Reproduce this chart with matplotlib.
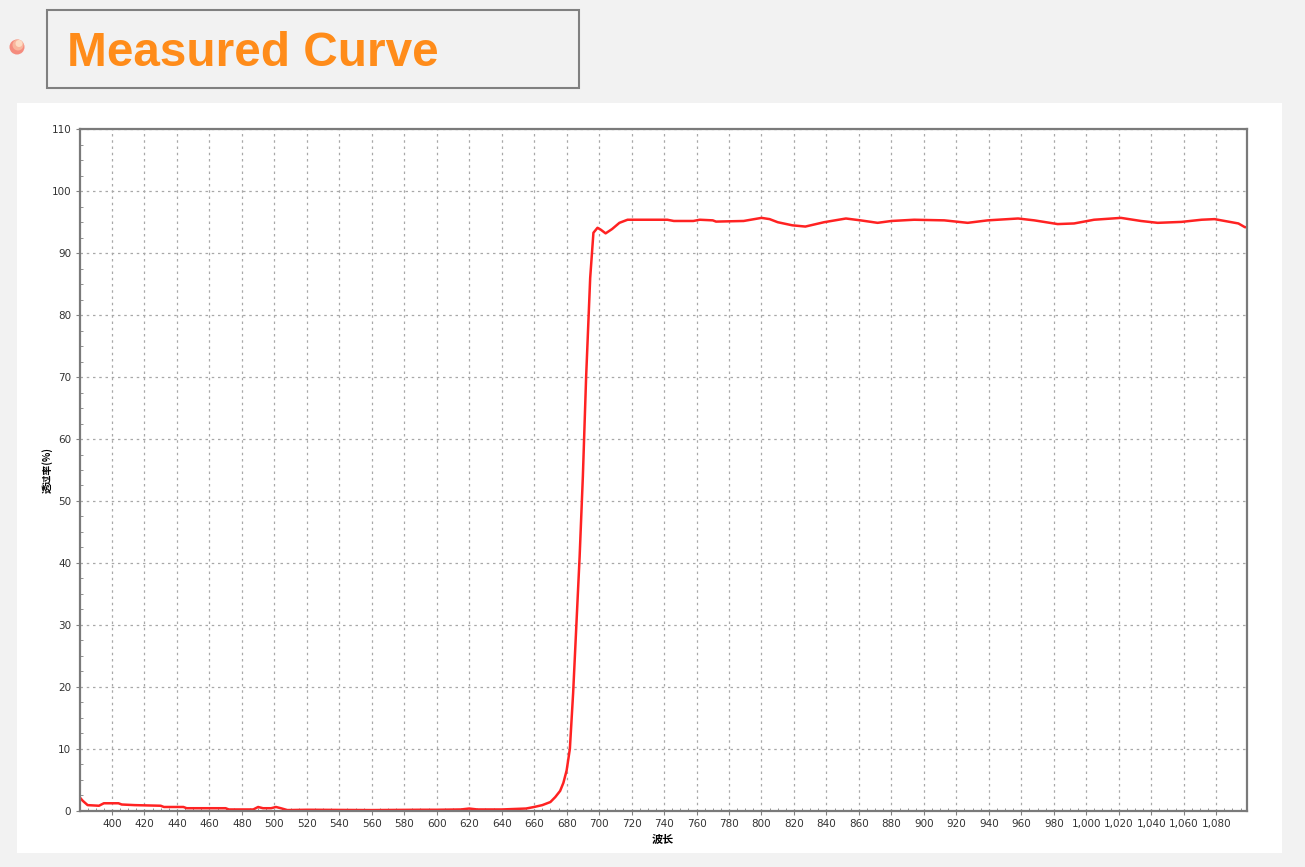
import numpy as np
import matplotlib.pyplot as plt
from matplotlib.patches import Rectangle, Circle
from matplotlib.ticker import MultipleLocator, FixedLocator, FuncFormatter

# measured transmission curve
wavelength = [380, 382, 385, 392, 395, 404, 406, 414, 430, 432, 444, 446,
              470, 472, 487, 490, 493, 498, 501, 504, 508, 520, 560, 590, 600, 615,
              620, 625, 640, 650, 655, 660, 665, 670, 673, 676, 678, 680, 682, 684,
              686, 688, 690, 692, 694.5, 696.5, 699, 701, 704, 708, 712.5, 717.5,
              730, 742, 746, 758, 762, 770, 772, 789, 800, 805, 810, 819, 827, 838.5,
              852, 861, 871.5, 880, 894, 912.6, 927, 939.3, 958, 968, 982.4, 992.5,
              1004.8, 1021.4, 1033.7, 1044, 1058.6, 1071, 1079, 1085.3, 1093.7,
              1097.7, 1099]
transmission = [2.2, 1.6, 0.9, 0.8, 1.2, 1.2, 1.0, 0.9, 0.8, 0.6, 0.6, 0.4,
                0.4, 0.2, 0.2, 0.6, 0.4, 0.4, 0.6, 0.4, 0.1, 0.15, 0.1, 0.15, 0.15, 0.2,
                0.35, 0.2, 0.2, 0.3, 0.35, 0.6, 0.9, 1.4, 2.2, 3.2, 4.5, 6.5, 10, 19,
                30, 41, 54, 70, 86, 93.3, 94.1, 93.8, 93.2, 93.9, 94.9, 95.4,
                95.4, 95.4, 95.2, 95.2, 95.4, 95.3, 95.1, 95.2, 95.7, 95.5, 95.0, 94.5, 94.3, 95.0,
                95.6, 95.3, 94.9, 95.2, 95.4, 95.3, 94.9, 95.3, 95.6, 95.3, 94.7, 94.8,
                95.4, 95.7, 95.2, 94.9, 95.05, 95.4, 95.5, 95.2, 94.8,
                94.2, 94.2]

x_ticks = list(range(400, 1081, 20))
title = 'Measured Curve'
x_label = '波长'
y_label = '透过率(%)'

W, H = 1305, 867
fig = plt.figure(figsize=(W / 100, H / 100), dpi=100, facecolor='#f2f2f2')

# background layer in pixel coordinates
bg = fig.add_axes([0, 0, 1, 1])
bg.set_xlim(0, W)
bg.set_ylim(H, 0)
bg.axis('off')
bg.add_patch(Rectangle((17, 103), 1265, 750, facecolor='white', edgecolor='none'))
bg.add_patch(Rectangle((47, 10), 532, 78, facecolor='#f2f2f2', edgecolor='#808080', lw=1.5))
bg.add_patch(Circle((17, 47), 7.5, facecolor='#f58c7e', edgecolor='none'))
bg.add_patch(Circle((18, 45), 5.5, facecolor='#f9b59c', edgecolor='none'))
bg.add_patch(Circle((19, 43.5), 3.5, facecolor='#fddcc4', edgecolor='none'))
bg.text(67, 66, title, fontsize=34.4, fontweight='bold', color='#ff8c1a',
        family='Liberation Sans', va='baseline', ha='left')

L, R, T, B = 79.5, 1247, 129.3, 810.7
ax = fig.add_axes([L / W, 1 - B / H, (R - L) / W, (B - T) / H])
ax.plot(wavelength, transmission, color='#ff2222', lw=1.8)

ax.set_xlim(380, 1099)
ax.set_ylim(0, 110)
ax.xaxis.set_major_locator(FixedLocator(x_ticks))
ax.xaxis.set_minor_locator(MultipleLocator(5))
ax.yaxis.set_major_locator(MultipleLocator(10))
ax.yaxis.set_minor_locator(MultipleLocator(2.5))
ax.xaxis.set_major_formatter(FuncFormatter(lambda v, p: f'{v:,.0f}'))

ax.grid(True, which='major', color='#a8a8a8', linestyle=(0, (2, 3)), lw=0.9)
for s in ax.spines.values():
    s.set_color('#7a7a7a')
    s.set_linewidth(1.6)
ax.tick_params(which='major', length=3, width=0.8, color='#808080',
               labelsize=7.5, labelcolor='#333333', pad=3)
ax.tick_params(which='minor', direction='in', length=2.5, width=0.7, color='#909090')

ax.set_xlabel(x_label, family=['Noto Sans CJK SC', 'DejaVu Sans'], fontsize=8,
              fontweight='bold', labelpad=3)
ax.set_ylabel(y_label, family=['Noto Sans CJK SC', 'DejaVu Sans'], fontsize=7,
              fontweight='bold')
ax.yaxis.set_label_coords((53 - L) / (R - L), 0.5)

fig.savefig('out.png', dpi=100, facecolor=fig.get_facecolor())
